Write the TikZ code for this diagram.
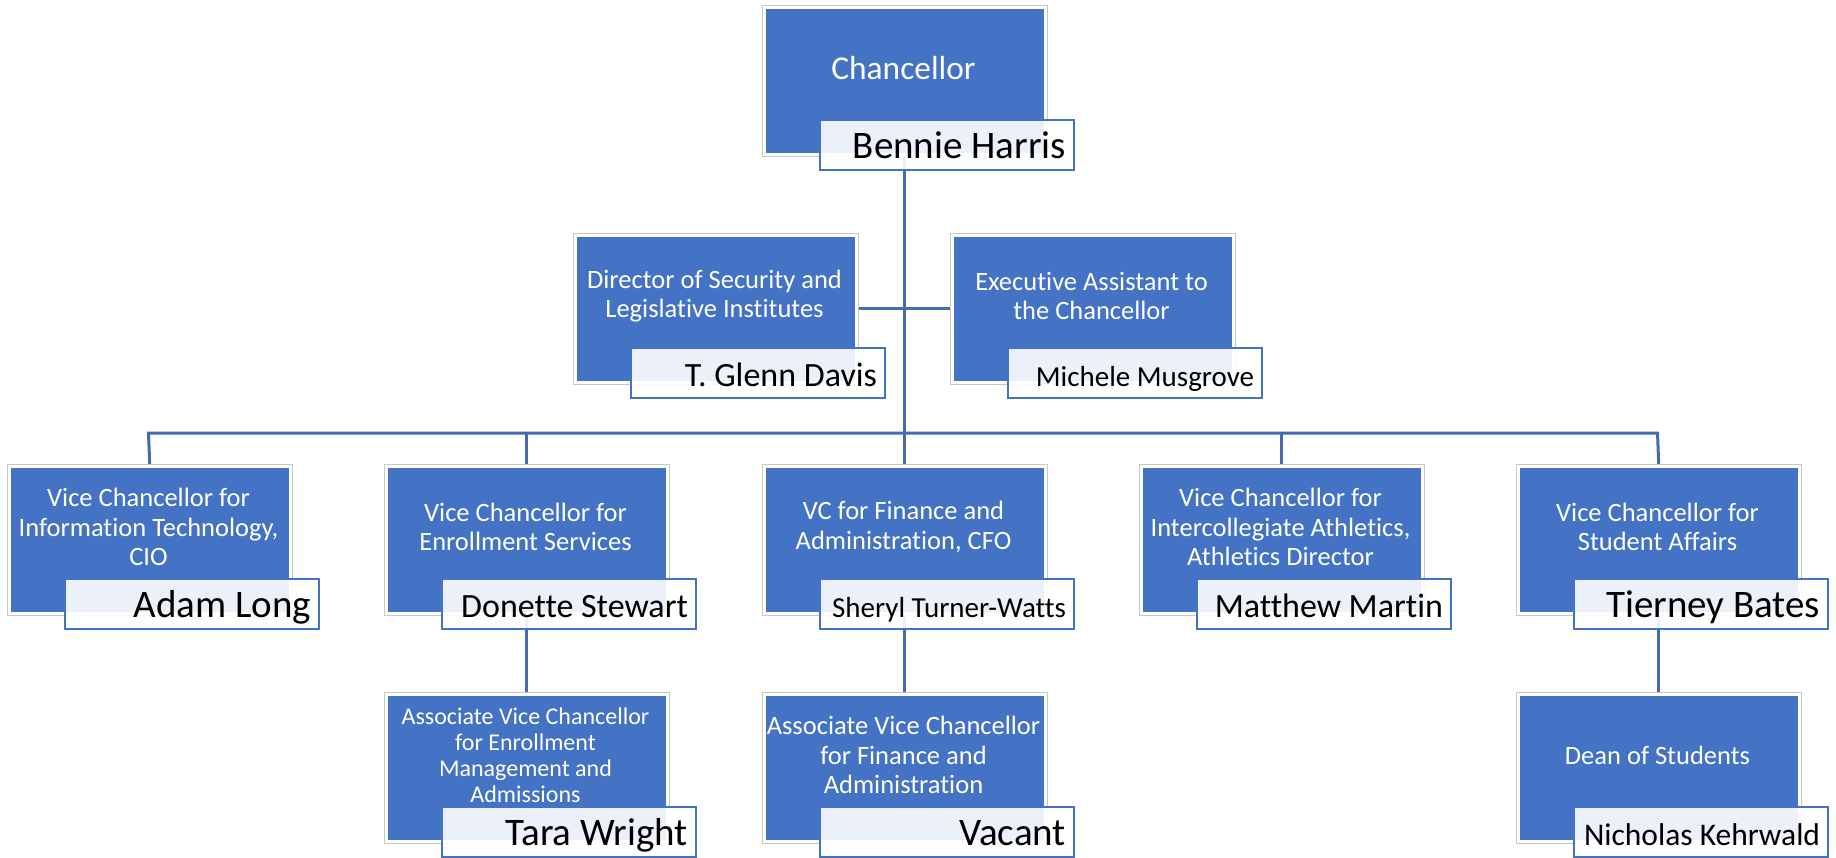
\documentclass[tikz,border=0pt]{standalone}
\usepackage{fontspec}
\setmainfont[Ligatures={NoCommon,NoContextual}]{Carlito}
\usetikzlibrary{calc}
\definecolor{boxblue}{HTML}{4472C4}
\definecolor{connblue}{RGB}{70,106,178}
\pgfdeclarelayer{bg}
\pgfsetlayers{bg,main}
\begin{document}
\begin{tikzpicture}[x=1pt,y=-1pt,
  posbox/.style={rectangle, anchor=north west, inner sep=0pt, minimum width=281pt, minimum height=147pt, fill=boxblue, draw=white, line width=2.5pt, preaction={draw=black!22, line width=4.5pt}},
  ptitle/.style={text=white, align=center, font=\fontsize{26.5}{29.5}\selectfont, inner sep=0pt},
  smalltitle/.style={ptitle, font=\fontsize{24}{26}\selectfont},
  namebox/.style={rectangle, anchor=north west, inner xsep=8pt, inner ysep=0pt, minimum width=254pt, minimum height=50pt, fill=white, fill opacity=0.9, text opacity=1, draw=boxblue, draw opacity=1, line width=2pt, text height=26pt, text depth=0pt, text=black, font=\fontsize{#1}{#1}\selectfont},
  conn/.style={draw=connblue, line width=3pt}
]
\useasboundingbox (0,0) rectangle (1836,857);

% Chancellor
\node[posbox] (chanc) at (763,6) {};
\node[ptitle, font=\fontsize{33.4}{37}\selectfont] (chancT) at (903.5,68) {Chancellor};
\node[namebox=39] (chancN) at (819,119) {\makebox[238pt][r]{Bennie Harris}};

% Assistants
\node[posbox] (dir) at (574,234) {};
\node[ptitle] (dirT) at (714.5,296) {Director of Security and\\Legislative Institutes};
\node[namebox=34] (dirN) at (630,347) {\makebox[238pt][r]{T. Glenn Davis}};

\node[posbox] (exec) at (951,234) {};
\node[ptitle] (execT) at (1091.5,296) {Executive Assistant to\\the Chancellor};
\node[namebox=29] (execN) at (1007,347) {\makebox[238pt][r]{Michele Musgrove}};

% Vice chancellors
\node[posbox] (vc1) at (8,465) {};
\node[ptitle] (vc1T) at (148.5,527) {Vice Chancellor for\\Information Technology,\\CIO};
\node[namebox=39] (vc1N) at (64,578) {\makebox[238pt][r]{Adam Long}};

\node[posbox] (vc2) at (385,465) {};
\node[ptitle] (vc2T) at (525.5,527) {Vice Chancellor for\\Enrollment Services};
\node[namebox=34] (vc2N) at (441,578) {\makebox[238pt][r]{Donette Stewart}};

\node[posbox] (vc3) at (763,465) {};
\node[ptitle] (vc3T) at (903.5,527) {VC for Finance and\\Administration, CFO};
\node[namebox=29] (vc3N) at (819,578) {\makebox[238pt][r]{Sheryl Turner-Watts}};

\node[posbox] (vc4) at (1140,465) {};
\node[ptitle] (vc4T) at (1280.5,527) {Vice Chancellor for\\Intercollegiate Athletics,\\Athletics Director};
\node[namebox=34] (vc4N) at (1196,578) {\makebox[238pt][r]{Matthew Martin}};

\node[posbox] (vc5) at (1517,465) {};
\node[ptitle] (vc5T) at (1657.5,527) {Vice Chancellor for\\Student Affairs};
\node[namebox=39] (vc5N) at (1573,578) {\makebox[238pt][r]{Tierney Bates}};

% Third row
\node[posbox] (avc1) at (385,693) {};
\node[smalltitle] (avc1T) at (525.5,755) {Associate Vice Chancellor\\for Enrollment\\Management and\\Admissions};
\node[namebox=39] (avc1N) at (441,806) {\makebox[238pt][r]{Tara Wright}};

\node[posbox] (avc2) at (763,693) {};
\node[ptitle] (avc2T) at (903.5,755) {Associate Vice Chancellor\\for Finance and\\Administration};
\node[namebox=39] (avc2N) at (819,806) {\makebox[238pt][r]{Vacant}};

\node[posbox] (dean) at (1517,693) {};
\node[ptitle] (deanT) at (1657.5,755) {Dean of Students};
\node[namebox=31.5] (deanN) at (1573,806) {\makebox[238pt][r]{Nicholas Kehrwald}};

% Connectors
\coordinate (busL) at (148.5,433);
\coordinate (busR) at (1657.5,433);
\begin{pgfonlayer}{bg}
\draw[conn] (chanc.south) -- (chanc.south |- busL);
\draw[conn] (dir.east) -- (exec.west);
\draw[conn] (vc1.north) -- (busL) -- (busR) -- (vc5.north);
\draw[conn] (vc2.north) -- (vc2.north |- busL);
\draw[conn] (vc3.north) -- (vc3.north |- busL);
\draw[conn] (vc4.north) -- (vc4.north |- busL);
\draw[conn] (vc2.south) -- (avc1.north);
\draw[conn] (vc3.south) -- (avc2.north);
\draw[conn] (vc5.south) -- (dean.north);
\end{pgfonlayer}
\end{tikzpicture}
\end{document}
